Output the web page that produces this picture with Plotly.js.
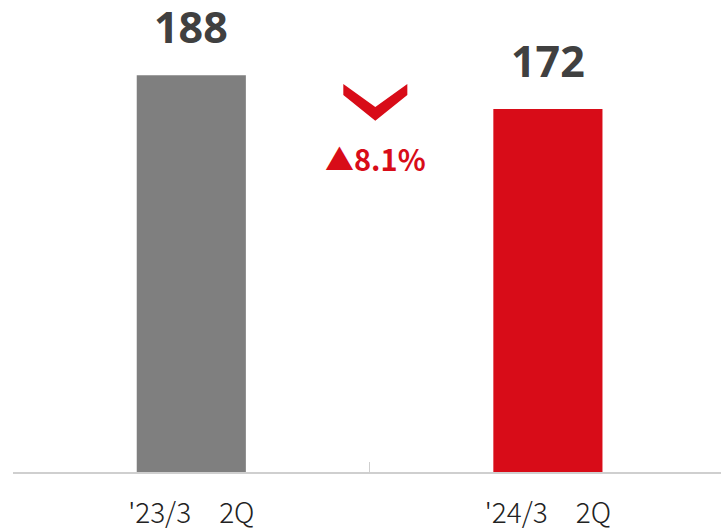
<!DOCTYPE html>
<html>
<head>
<meta charset="utf-8">
<script src="https://cdn.plot.ly/plotly-3.0.1.min.js"></script>
<style>html,body{margin:0;padding:0;background:#fff;}#chart{width:721px;height:531px;}</style>
</head>
<body>
<div id="chart"></div>
<script>
const categories = ["'23/3\u30002Q", "'24/3\u30002Q"];
const values = [188, 172];
const barColors = ["#7f7f7f", "#d80c18"];
const changeLabel = "\u25B28.1%";

const trace = {
  type: 'bar',
  x: categories,
  y: values,
  width: [0.306, 0.306],
  marker: {color: barColors, line: {width: 0}},
  hoverinfo: 'none',
  showlegend: false
};

const valueAnnotations = categories.map((c, i) => ({
  x: c, y: values[i], xref: 'x', yref: 'y',
  text: String(values[i]),
  showarrow: false, yanchor: 'bottom', yshift: 18, borderpad: 0,
  font: {family: 'Noto Sans, sans-serif', size: 43, color: '#404040', weight: 700}
}));

const layout = {
  width: 721, height: 531,
  margin: {l: 13, r: 0, t: 20, b: 59, pad: 0},
  paper_bgcolor: '#ffffff', plot_bgcolor: '#ffffff',
  bargap: 0.694,
  xaxis: {
    type: 'category',
    range: [-0.5, 1.4854],
    showline: true, linecolor: '#cfcfcf', linewidth: 1.5,
    ticks: 'inside', ticklen: 10, tickwidth: 1.5, tickcolor: '#cfcfcf',
    tickson: 'boundaries',
    showgrid: false, zeroline: false,
    ticklabelstandoff: 16,
    tickfont: {family: 'Noto Sans CJK JP, sans-serif', size: 28, color: '#222222', weight: 300}
  },
  yaxis: {
    range: [0, 214.2],
    visible: false, showgrid: false, zeroline: false
  },
  annotations: valueAnnotations.concat([{
    x: 0.516, y: 148.8, xref: 'x', yref: 'y',
    text: changeLabel, showarrow: false,
    xanchor: 'center', yanchor: 'middle',
    font: {family: 'Noto Sans CJK JP, sans-serif', size: 29, color: '#d80c18', weight: 700}
  }]),
  shapes: [{
    type: 'path', xref: 'x', yref: 'y',
    path: 'M 0.4263 183.9 L 0.5160 173.0 L 0.6058 183.9 L 0.6058 178.7 L 0.5160 166.4 L 0.4263 178.7 Z',
    fillcolor: '#d80c18', line: {width: 0}
  }]
};

Plotly.newPlot('chart', [trace], layout, {displayModeBar: false, staticPlot: true});
</script>
</body>
</html>
